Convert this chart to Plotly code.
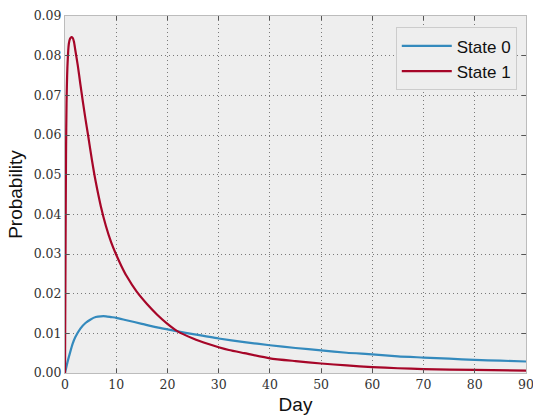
import plotly.graph_objects as go

# Values
days_state0 = [0, 0.5, 1, 1.5, 2, 3, 4, 5, 6, 7, 8, 9, 10, 12, 15, 18, 20, 22, 25, 30,
               35, 40, 45, 50, 55, 60, 65, 70, 75, 80, 85, 90]
prob_state0 = [0.0, 0.0028, 0.0052, 0.0074, 0.0090, 0.0112, 0.0126, 0.0135, 0.0141, 0.0143,
               0.0143, 0.0141, 0.0139, 0.0133, 0.0124, 0.0115, 0.0110, 0.0105, 0.0098, 0.0087,
               0.0078, 0.0070, 0.0063, 0.0057, 0.0051, 0.0047, 0.0042, 0.0039, 0.0036, 0.0033,
               0.0031, 0.0029]

days_state1 = [0, 0.1, 0.2, 0.3, 0.5, 0.75, 1.0, 1.25, 1.5, 1.75, 2.0, 2.5, 3.0, 3.5, 4.0,
               4.5, 5.0, 5.5, 6.0, 7, 8, 9, 10, 11, 12, 14, 16, 18, 20, 22, 25, 28, 30, 32,
               35, 40, 45, 50, 55, 60, 65, 70, 80, 90]
prob_state1 = [0.0, 0.030, 0.055, 0.068, 0.078, 0.0830, 0.0843, 0.0847, 0.0845, 0.0835,
               0.0815, 0.0775, 0.0728, 0.0683, 0.0640, 0.0600, 0.0558, 0.0518, 0.0482,
               0.0420, 0.0370, 0.0330, 0.0298, 0.0270, 0.0245, 0.0205, 0.0174, 0.0147,
               0.0124, 0.0105, 0.0087, 0.0073, 0.0065, 0.0058, 0.0050, 0.0037, 0.0030,
               0.0024, 0.0019, 0.0015, 0.0012, 0.0010, 0.00077, 0.0006]

x_ticks = [0, 10, 20, 30, 40, 50, 60, 70, 80, 90]
y_ticks = [0.00, 0.01, 0.02, 0.03, 0.04, 0.05, 0.06, 0.07, 0.08, 0.09]

fig = go.Figure()
fig.add_trace(go.Scatter(x=days_state0, y=prob_state0, mode="lines", name="State 0",
                         line=dict(color="#348ABD", width=2.2, shape="spline", smoothing=0.6)))
fig.add_trace(go.Scatter(x=days_state1, y=prob_state1, mode="lines", name="State 1",
                         line=dict(color="#A60628", width=2.2, shape="spline", smoothing=0.6)))

tickfont = dict(family="DejaVu Serif", size=12.5, color="#333333")
axis_common = dict(
    showline=True, linecolor="#bcbcbc", linewidth=1, mirror="ticks",
    ticks="inside", ticklen=4, tickcolor="#555555", tickwidth=1,
    showgrid=True, gridcolor="#7a7a7a", griddash="1px,3px", gridwidth=1,
    zeroline=False, tickfont=tickfont, ticklabeloverflow="allow",
    automargin=False,
)

fig.update_xaxes(range=[0, 90], tickvals=x_ticks, ticktext=[str(v) for v in x_ticks],
                 title=dict(text="Day", font=dict(family="Liberation Sans", size=19, color="#111111"),
                            standoff=6),
                 **axis_common)
fig.update_yaxes(range=[0, 0.09], tickvals=y_ticks, ticktext=[f"{v:.2f}" for v in y_ticks],
                 title=dict(text="Probability", font=dict(family="Liberation Sans", size=19, color="#111111"),
                            standoff=6),
                 **axis_common)

fig.update_layout(
    width=533, height=418,
    margin=dict(l=65, r=7, t=16, b=45),
    paper_bgcolor="white", plot_bgcolor="#eeeeee",
    showlegend=True,
    legend=dict(x=0.98, y=0.968, xanchor="right", yanchor="top",
                bgcolor="#eeeeee", bordercolor="#cccccc", borderwidth=1,
                font=dict(family="Liberation Sans", size=17, color="#111111"),
                itemwidth=50, tracegroupgap=0),
)

fig.write_html("out.html")
